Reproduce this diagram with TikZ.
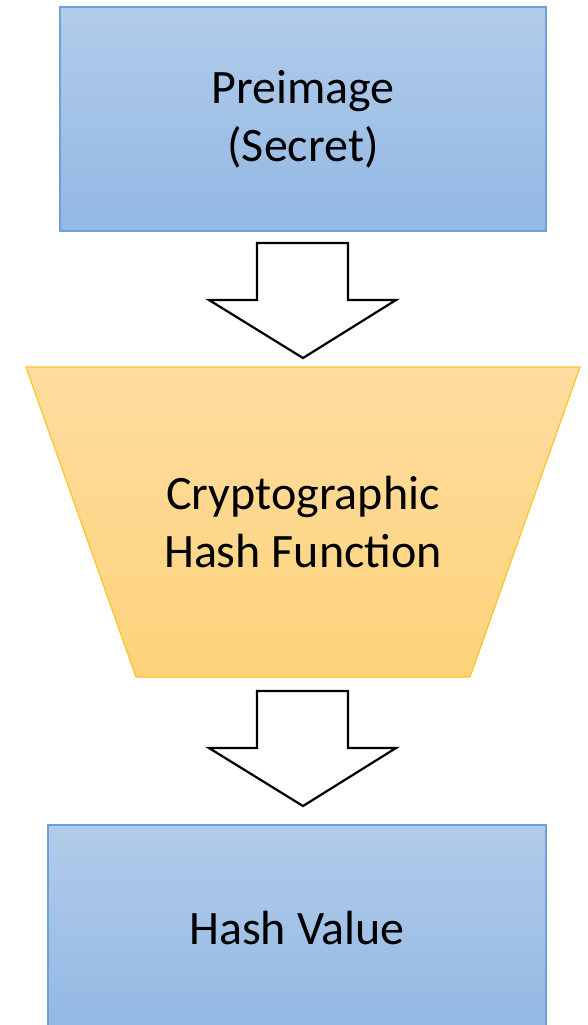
\documentclass[tikz,border=0pt]{standalone}
\usepackage{fontspec}
\setmainfont{Carlito}
\newcommand\diagfont{\fontsize{48pt}{58pt}\selectfont}
\definecolor{boxtop}{RGB}{178,204,234}
\definecolor{boxbot}{RGB}{146,184,228}
\definecolor{boxline}{RGB}{110,160,216}
\definecolor{fntop}{RGB}{254,221,160}
\definecolor{fnbot}{RGB}{253,210,122}
\definecolor{fnline}{RGB}{255,196,40}

\begin{document}
\begin{tikzpicture}[yscale=-1
,boxstyle/.style={draw=boxline,line width=1.3pt,top color=boxtop,bottom color=boxbot,inner sep=0pt,align=center,font=\diagfont}
,fnstyle/.style={draw=fnline,line width=1.2pt,top color=fntop,bottom color=fnbot}
,blockarrow/.style={draw=black,fill=white,line width=2.2pt,line join=miter}
,labelstyle/.style={align=center,font=\diagfont,inner sep=0pt}
]
\useasboundingbox (0pt,0pt) rectangle (587pt,1025pt);
\clip (0pt,0pt) rectangle (587pt,1025pt);
% input box
\node[boxstyle,minimum width=486pt,minimum height=224pt] (pre) at (303pt,119pt) {Preimage\\(Secret)};
% hash function
\draw[fnstyle] (26pt,367pt) -- (580pt,367pt) -- (470pt,677pt) -- (136pt,677pt) -- cycle;
\node[labelstyle] (hashfn) at (303pt,522pt) {Cryptographic\\Hash Function};
% output box
\node[boxstyle,minimum width=498pt,minimum height=206pt] (hashval) at (297pt,928pt) {Hash Value};
% block arrows
\draw[blockarrow] (257pt,243pt) -- (348pt,243pt) -- (348pt,300pt) -- (396pt,300pt) -- (303pt,358pt) -- (209pt,300pt) -- (257pt,300pt) -- cycle;
\draw[blockarrow] (257pt,691pt) -- (348pt,691pt) -- (348pt,748pt) -- (396pt,748pt) -- (303pt,806pt) -- (209pt,748pt) -- (257pt,748pt) -- cycle;
\end{tikzpicture}
\end{document}
